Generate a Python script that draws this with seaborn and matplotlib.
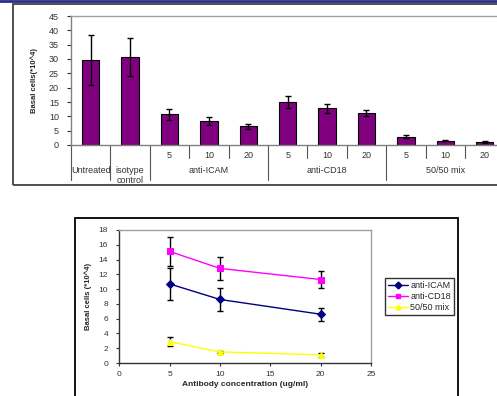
import matplotlib
matplotlib.use("Agg")
import matplotlib.pyplot as plt
from matplotlib.patches import Rectangle
from matplotlib.lines import Line2D
import matplotlib.transforms as mtransforms
import seaborn as sns
import pandas as pd
import numpy as np

# ---------------- data ----------------
bar_groups = ["Untreated", "isotype\ncontrol", "anti-ICAM", "anti-ICAM", "anti-ICAM",
              "anti-CD18", "anti-CD18", "anti-CD18", "50/50 mix", "50/50 mix", "50/50 mix"]
bar_doses = ["", "", "5", "10", "20", "5", "10", "20", "5", "10", "20"]
bar_values = [29.6, 30.6, 10.7, 8.5, 6.5, 15.0, 12.8, 11.2, 2.9, 1.5, 1.0]
bar_errors = [8.7, 6.7, 2.0, 1.4, 1.0, 2.1, 1.5, 1.0, 0.6, 0.2, 0.3]

conc = [5, 10, 20]
icam_vals = [10.7, 8.6, 6.6]
icam_err = [2.2, 1.5, 0.85]
cd18_vals = [15.1, 12.8, 11.3]
cd18_err = [2.0, 1.5, 1.1]
mix_vals = [2.9, 1.5, 1.1]
mix_err = [0.6, 0.1, 0.3]
series_names = ["anti-ICAM", "anti-CD18", "50/50 mix"]
series_colors = ["#000080", "#FF00FF", "#FFFF00"]
series_markers = ["D", "s", "^"]

# ---------------- style ----------------
sns.set_theme(style="white")
plt.rcParams["font.family"] = ["Liberation Sans", "DejaVu Sans"]

W, H = 497, 396
fig = plt.figure(figsize=(W / 100, H / 100), dpi=100)

def fx(px):
    return px / W

def fy(py):
    return 1 - py / H

# frames
fig.patches.append(Rectangle((fx(13), fy(185)), fx(510 - 13), (185 - 4) / H,
                             transform=fig.transFigure, fill=False,
                             edgecolor="#404040", linewidth=1.3))
fig.patches.append(Rectangle((fx(75), fy(400)), fx(458 - 75), (400 - 218) / H,
                             transform=fig.transFigure, fill=False,
                             edgecolor="black", linewidth=1.3))
fig.lines.append(Line2D([0, 1], [0.998, 0.998], transform=fig.transFigure,
                        color="#2a2a8a", linewidth=2))

# ---------------- top bar chart ----------------
ax1 = fig.add_axes([fx(71), fy(145), (11 * 39.4) / W, (145 - 16) / H])
labels = [f"{g}|{d}|{i}" for i, (g, d) in enumerate(zip(bar_groups, bar_doses))]
df_bar = pd.DataFrame({"label": labels, "value": bar_values})
sns.barplot(data=df_bar, x="label", y="value", order=labels, color="#800080",
            edgecolor="black", linewidth=0.8, width=0.44, errorbar=None,
            saturation=1, ax=ax1)
xpos = np.arange(len(bar_values))
ax1.errorbar(xpos, bar_values, yerr=bar_errors, fmt="none", ecolor="black",
             elinewidth=1, capsize=2.5, capthick=1)
ax1.set_xlim(-0.5, len(bar_values) - 0.5)
ax1.set_ylim(0, 45)
ax1.set_yticks(range(0, 46, 5))
ax1.set_xticks([])
ax1.set_xlabel("")
ax1.set_ylabel("Basal cells(*10^4)", fontsize=5.5, fontweight="bold", labelpad=8)
ax1.tick_params(axis="y", labelsize=6.5, length=3.2, width=0.8, direction="out",
                left=True, pad=5.5, colors="#333333")
ax1.spines["right"].set_visible(False)
ax1.spines["top"].set_color("#a0a0a0")
ax1.spines["left"].set_color("#808080")
ax1.spines["bottom"].set_color("#808080")
for s in ax1.spines.values():
    s.set_linewidth(1)

trans = mtransforms.blended_transform_factory(ax1.transData, ax1.transAxes)
# separators
n = len(bar_values)
bounds = [-0.5] + [i + 0.5 for i in range(n - 1)]
for b in bounds:
    i = int(b + 0.5)
    long_sep = (i == 0) or (bar_groups[i] != bar_groups[i - 1])
    ybot = -0.271 if long_sep else -0.1
    ax1.plot([b, b], [0, ybot], transform=trans, color="#555555", lw=0.8,
             clip_on=False)
# dose labels
for i, d in enumerate(bar_doses):
    if d:
        ax1.text(i, -0.078, d, transform=trans, ha="center", va="center",
                 fontsize=6.5, color="#333333")
# group labels
seen = []
for g in bar_groups:
    if g not in seen:
        seen.append(g)
for g in seen:
    idx = [i for i, gg in enumerate(bar_groups) if gg == g]
    c = np.mean(idx)
    ax1.text(c, -0.163, g, transform=trans, ha="center", va="top",
             fontsize=6.5, color="#333333", linespacing=1.1)

# ---------------- bottom line chart ----------------
ax2 = fig.add_axes([fx(119.3), fy(363), (371 - 119.3) / W, (363 - 230) / H])
rows = []
for name, vals in zip(series_names, [icam_vals, cd18_vals, mix_vals]):
    for c, v in zip(conc, vals):
        rows.append({"conc": c, "value": v, "series": name})
df_line = pd.DataFrame(rows)
pal = dict(zip(series_names, series_colors))
mk = dict(zip(series_names, series_markers))
sns.lineplot(data=df_line, x="conc", y="value", hue="series", style="series",
             hue_order=series_names, style_order=series_names, palette=pal,
             markers=mk, dashes=False, markersize=4, linewidth=1, ax=ax2,
             legend=False)
for ln in ax2.lines:
    ln.set_markeredgecolor(ln.get_color())
for vals, errs in zip([icam_vals, cd18_vals, mix_vals], [icam_err, cd18_err, mix_err]):
    ax2.errorbar(conc, vals, yerr=errs, fmt="none", ecolor="black",
                 elinewidth=1, capsize=2.5, capthick=1, zorder=1)
ax2.set_xlim(0, 25)
ax2.set_ylim(0, 18)
ax2.set_xticks(range(0, 26, 5))
ax2.set_yticks(range(0, 19, 2))
ax2.set_xlabel("Antibody concentration (ug/ml)", fontsize=6, fontweight="bold",
               labelpad=2.5)
ax2.set_ylabel("Basal cells (*10^4)", fontsize=5.5, fontweight="bold", labelpad=5)
ax2.tick_params(axis="y", labelsize=6, length=2.5, width=0.8, direction="out",
                left=True, pad=5.5, colors="#333333")
ax2.tick_params(axis="x", labelsize=6, length=2.5, width=0.8, direction="out",
                bottom=True, pad=3, colors="#333333")
ax2.spines["top"].set_color("#a0a0a0")
ax2.spines["right"].set_color("#a0a0a0")
ax2.spines["left"].set_color("#333333")
ax2.spines["bottom"].set_color("#333333")
for s in ax2.spines.values():
    s.set_linewidth(1)

handles = [Line2D([0], [0], color=c, marker=m, markersize=3.5, markeredgecolor=c,
                  linewidth=1) for c, m in zip(series_colors, series_markers)]
leg = ax2.legend(handles, series_names, loc="upper left",
                 bbox_to_anchor=(fx(385), fy(278)), bbox_transform=fig.transFigure,
                 frameon=True, fancybox=False, fontsize=6.5, handlelength=2.2,
                 handletextpad=0.3, labelspacing=0.25, borderpad=0.3,
                 borderaxespad=0)
leg.get_frame().set_edgecolor("black")
leg.get_frame().set_linewidth(1)

fig.savefig("out.png", dpi=100)
